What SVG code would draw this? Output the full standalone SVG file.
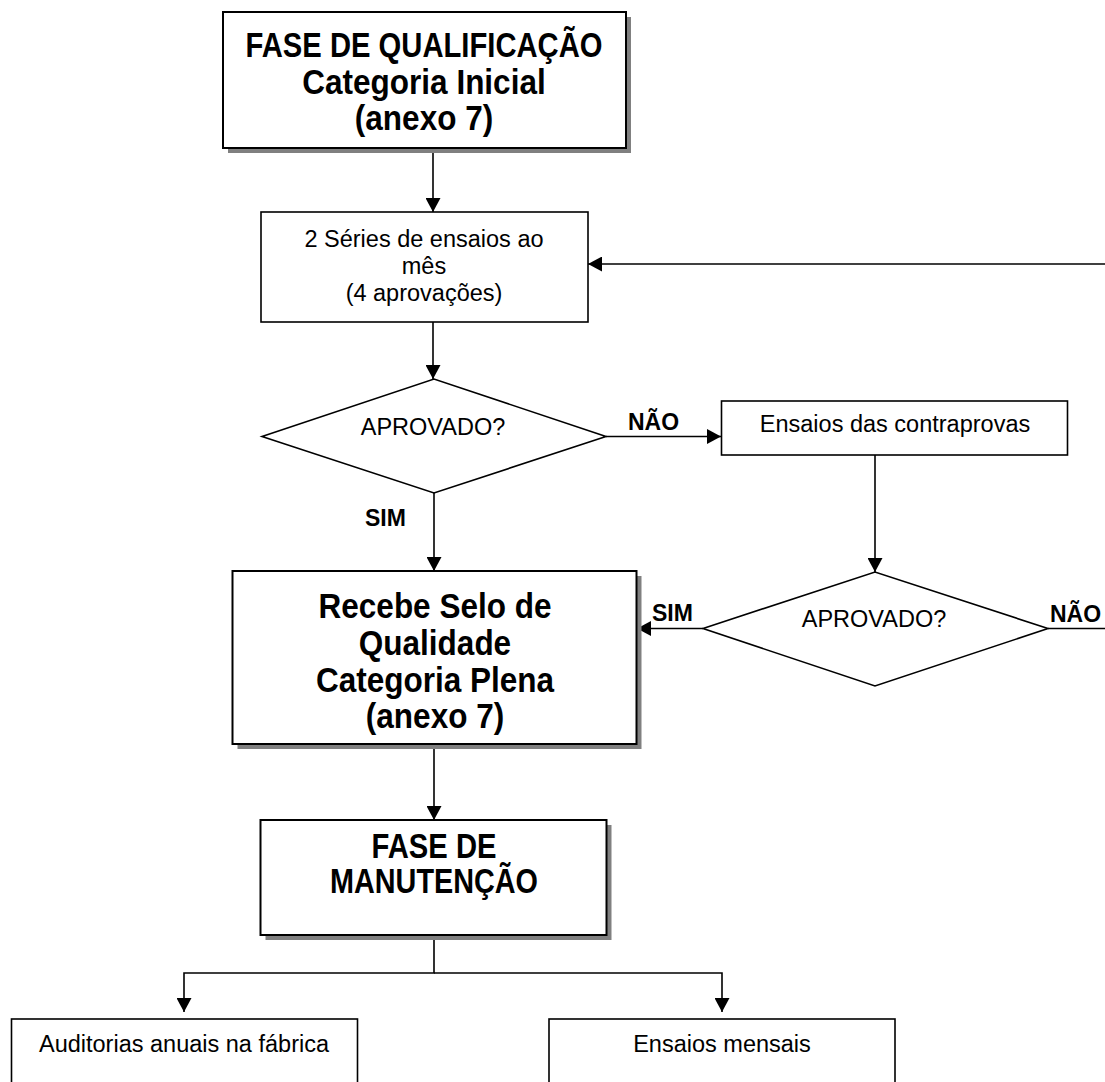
<svg xmlns="http://www.w3.org/2000/svg" width="1105" height="1082" viewBox="0 0 1105 1082">
<defs>
<style>
.box{fill:#fff;stroke:#000;stroke-width:1.6}
.bbox{fill:#fff;stroke:#000;stroke-width:2}
.sh{fill:#808080}
.t{font-family:"Liberation Sans",Arial,sans-serif;font-size:23.5px;fill:#000;text-anchor:middle}
.b{font-family:"Liberation Sans",Arial,sans-serif;font-size:31.5px;font-weight:bold;fill:#000;text-anchor:middle}
.lbl{font-family:"Liberation Sans",Arial,sans-serif;font-size:23px;font-weight:bold;fill:#000}
.c{fill:none;stroke:#000;stroke-width:1.6}
</style>
<marker id="ah" markerUnits="userSpaceOnUse" markerWidth="14" markerHeight="15" refX="14" refY="7.5" orient="auto">
<path d="M0,0 L14,7.5 L0,15 z" fill="#000"/>
</marker>
</defs>
<rect width="1105" height="1082" fill="#fff"/>

<g id="connectors">
<line class="c" x1="433" y1="148" x2="433" y2="212" marker-end="url(#ah)"/>
<line class="c" x1="1110" y1="264" x2="588" y2="264" marker-end="url(#ah)"/>
<line class="c" x1="433" y1="322" x2="433" y2="379" marker-end="url(#ah)"/>
<line class="c" x1="606" y1="436.5" x2="721" y2="436.5" marker-end="url(#ah)"/>
<line class="c" x1="434" y1="493" x2="434" y2="571" marker-end="url(#ah)"/>
<line class="c" x1="875" y1="455" x2="875" y2="572" marker-end="url(#ah)"/>
<line class="c" x1="703" y1="628.5" x2="637" y2="628.5" marker-end="url(#ah)"/>
<line class="c" x1="1048" y1="628.5" x2="1110" y2="628.5"/>
<line class="c" x1="434" y1="744" x2="434" y2="820" marker-end="url(#ah)"/>
<polyline class="c" points="434,935 434,973 184,973 184,1012" marker-end="url(#ah)"/>
<polyline class="c" points="434,973 722,973 722,1012" marker-end="url(#ah)"/>
<text class="lbl" x="628" y="430">NÃO</text>
<text class="lbl" x="365" y="526">SIM</text>
<text class="lbl" x="652" y="621">SIM</text>
<text class="lbl" x="1050" y="622">NÃO</text>
</g>

<g id="n-qualificacao">
<rect class="sh" x="228" y="17" width="403" height="136"/>
<rect class="bbox" x="223" y="12" width="403" height="136"/>
<text class="b" transform="translate(424,56.5) scale(1,1.1)" textLength="357" lengthAdjust="spacingAndGlyphs">FASE DE QUALIFICAÇÃO</text>
<text class="b" transform="translate(424,93.5) scale(1,1.1)">Categoria Inicial</text>
<text class="b" transform="translate(424,130) scale(1,1.1)">(anexo 7)</text>
</g>

<g id="n-series">
<rect class="box" x="261" y="212" width="327" height="110"/>
<text class="t" x="424" y="246.5">2 Séries de ensaios ao</text>
<text class="t" x="424" y="273.5">mês</text>
<text class="t" x="424" y="300.5">(4 aprovações)</text>
</g>

<g id="n-aprovado1">
<polygon class="box" points="262,436.5 434,379 606,436.5 434,493"/>
<text class="t" x="433" y="435">APROVADO?</text>
</g>

<g id="n-contraprovas">
<rect class="box" x="721.5" y="401" width="346" height="54"/>
<text class="t" x="895" y="431.5">Ensaios das contraprovas</text>
</g>

<g id="n-aprovado2">
<polygon class="box" points="703,628.5 875,572 1048,628.5 875,686"/>
<text class="t" x="874" y="626.5">APROVADO?</text>
</g>

<g id="n-selo">
<rect class="sh" x="237.5" y="576" width="404" height="173"/>
<rect class="bbox" x="232.5" y="571" width="404" height="173"/>
<text class="b" transform="translate(435,618) scale(1,1.1)">Recebe Selo de</text>
<text class="b" transform="translate(435,655) scale(1,1.1)">Qualidade</text>
<text class="b" transform="translate(435,691.5) scale(1,1.1)">Categoria Plena</text>
<text class="b" transform="translate(435,728) scale(1,1.1)">(anexo 7)</text>
</g>

<g id="n-manutencao">
<rect class="sh" x="265.5" y="825" width="346" height="115"/>
<rect class="bbox" x="260.5" y="820" width="346" height="115"/>
<text class="b" transform="translate(434,858) scale(1,1.1)" textLength="125" lengthAdjust="spacingAndGlyphs">FASE DE</text>
<text class="b" transform="translate(434,893) scale(1,1.1)" textLength="208" lengthAdjust="spacingAndGlyphs">MANUTENÇÃO</text>
</g>

<g id="n-auditorias">
<rect class="box" x="11.5" y="1019" width="346" height="80"/>
<text class="t" x="184" y="1051.5">Auditorias anuais na fábrica</text>
</g>

<g id="n-ensaios-mensais">
<rect class="box" x="549" y="1019" width="346" height="80"/>
<text class="t" x="722" y="1051.5">Ensaios mensais</text>
</g>
</svg>
